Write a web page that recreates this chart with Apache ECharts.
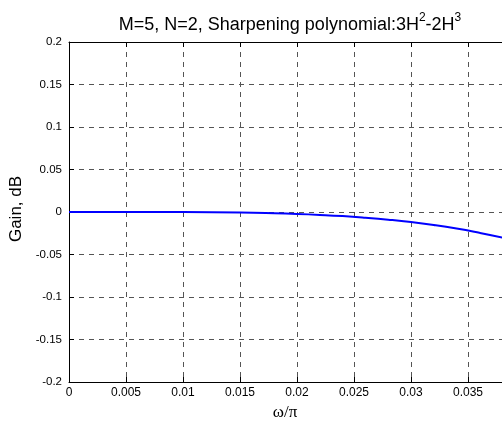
<!DOCTYPE html>
<html><head><meta charset="utf-8">
<script src="https://cdn.jsdelivr.net/npm/echarts@6/dist/echarts.min.js"></script>
<style>html,body{margin:0;padding:0;background:#fff}#c{width:502px;height:424px}</style>
</head><body><div id="c"></div>
<script>
const xValues = [0, 0.005, 0.01, 0.015, 0.018, 0.02, 0.022, 0.024, 0.026, 0.028, 0.03, 0.032, 0.034, 0.036, 0.038, 0.0385];
const gainValues = [0, 0, -0.0001, -0.0007, -0.0015, -0.0023, -0.0034, -0.0048, -0.0067, -0.009, -0.0118, -0.0153, -0.0195, -0.0245, -0.030, -0.0317];
const xTicks = [0, 0.005, 0.01, 0.015, 0.02, 0.025, 0.03, 0.035, 0.04];
const yTicks = [-0.2, -0.15, -0.1, -0.05, 0, 0.05, 0.1, 0.15, 0.2];

const chart = echarts.init(document.getElementById('c'), null, {renderer: 'canvas'});
const font = 'Liberation Sans, Arial, Helvetica, sans-serif';
const gridLine = {show: true, lineStyle: {color: '#555', type: [5, 5], width: 1}};
chart.setOption({
  animation: false,
  title: {
    text: '{a|M=5, N=2, Sharpening polynomial:3H}{s|2}{a|-2H}{s|3}',
    left: 285, top: 7, textAlign: 'center',
    textStyle: {rich: {
      a: {fontFamily: font, fontSize: 18, color: '#000', fontWeight: 'normal', verticalAlign: 'bottom', lineHeight: 22},
      s: {fontFamily: font, fontSize: 12, color: '#000', fontWeight: 'normal', verticalAlign: 'top', lineHeight: 22, padding: [0, 0, 9, 0]}
    }}
  },
  grid: {left: 69, width: 456, top: 42, bottom: 42, containLabel: false, outerBoundsMode: 'none'},
  xAxis: [{
    type: 'value', min: xTicks[0], max: xTicks[xTicks.length - 1], interval: 0.005,
    position: 'bottom',
    axisLine: {show: true, onZero: false, lineStyle: {color: '#000', width: 1}},
    axisTick: {show: true, inside: true, length: 5, lineStyle: {color: '#000'}},
    axisLabel: {color: '#000', fontFamily: font, fontSize: 12, margin: 5,
      formatter: v => String(+v.toFixed(4))},
    splitLine: gridLine,
    name: 'ω/π', nameLocation: 'middle', nameGap: 19,
    nameTextStyle: {fontFamily: 'Liberation Serif, Times New Roman, serif', fontSize: 17, color: '#000',
      padding: [0, 24, 0, 0]}
  }, {
    type: 'value', min: xTicks[0], max: xTicks[xTicks.length - 1], interval: 0.005,
    position: 'top',
    axisLine: {show: true, onZero: false, lineStyle: {color: '#000', width: 1}},
    axisTick: {show: true, inside: true, length: 5, lineStyle: {color: '#000'}},
    axisLabel: {show: false}, splitLine: {show: false}
  }],
  yAxis: [{
    type: 'value', min: yTicks[0], max: yTicks[yTicks.length - 1], interval: 0.05,
    axisLine: {show: true, onZero: false, lineStyle: {color: '#000', width: 1}},
    axisTick: {show: true, inside: true, length: 5, lineStyle: {color: '#000'}},
    axisLabel: {color: '#000', fontFamily: font, fontSize: 11.5, margin: 7,
      formatter: v => String(+v.toFixed(4))},
    splitLine: gridLine,
    name: 'Gain, dB', nameLocation: 'middle', nameGap: 37, nameRotate: 90,
    nameTextStyle: {fontFamily: font, fontSize: 17, color: '#000', padding: [0, 0, 0, 6]}
  }],
  series: [{
    type: 'line', xAxisIndex: 0, yAxisIndex: 0,
    data: xValues.map((x, i) => [x, gainValues[i]]),
    showSymbol: false, smooth: true,
    lineStyle: {color: '#0000ff', width: 2}
  }]
});
</script></body></html>
